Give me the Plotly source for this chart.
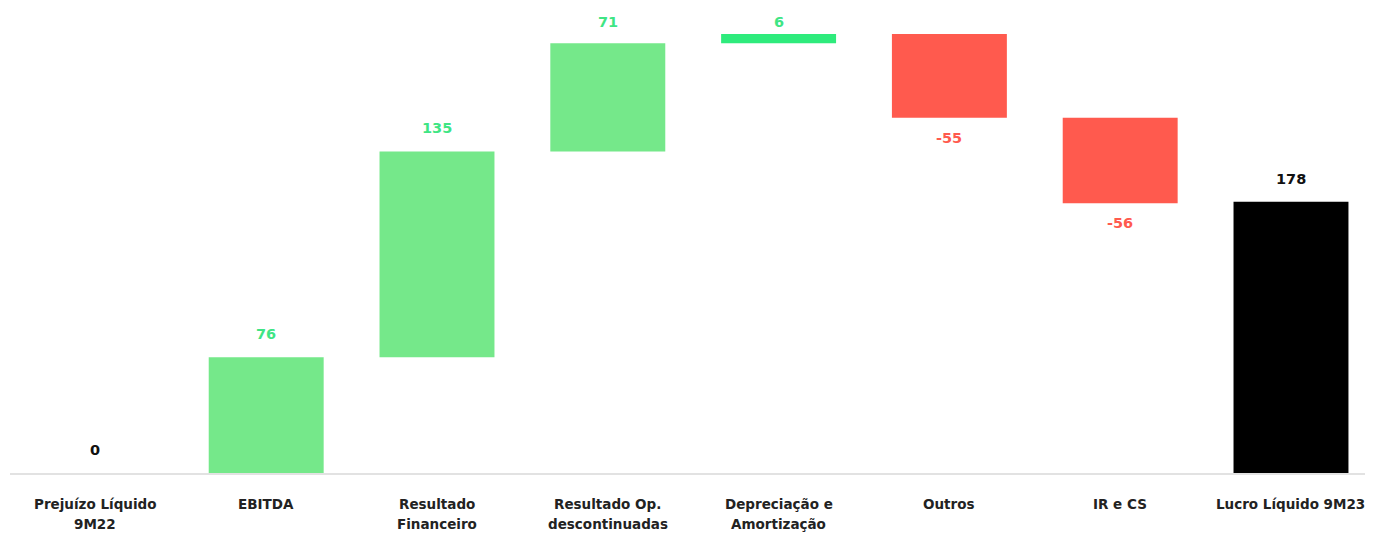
import plotly.graph_objects as go

categories = ["Prejuízo Líquido<br>9M22", "EBITDA", "Resultado<br>Financeiro",
              "Resultado Op.<br>descontinuadas", "Depreciação e<br>Amortização",
              "Outros", "IR e CS", "Lucro Líquido 9M23"]
values = [0, 76, 135, 71, 6, -55, -56, 178]
measures = ["absolute", "relative", "relative", "relative", "relative", "relative", "relative", "absolute"]
labels = ["0", "76", "135", "71", "6", "-55", "-56", "178"]
bar_colors = ["#000000", "#75E88A", "#75E88A", "#75E88A", "#2EEB7C", "#FF5A4E", "#FF5A4E", "#000000"]
label_colors = ["#111111", "#3FE584", "#3FE584", "#3FE584", "#3FE584", "#FF5A4E", "#FF5A4E", "#111111"]

bases, heights, tops, bottoms = [], [], [], []
running = 0
for v, m in zip(values, measures):
    if m == "absolute":
        bases.append(0)
        running = v
    else:
        bases.append(running)
        running += v
    heights.append(v)
    tops.append(max(bases[-1], bases[-1] + v))
    bottoms.append(min(bases[-1], bases[-1] + v))

font_family = "DejaVu Sans, sans-serif"
Y_MAX = 297.2
PLOT_H = 533 - 12 - 68
PPU = PLOT_H / Y_MAX

fig = go.Figure()
fig.add_trace(go.Bar(
    x=list(range(len(categories))), y=heights, base=bases,
    marker=dict(color=bar_colors, line=dict(width=0)),
    hoverinfo="skip", showlegend=False,
))

for i, (v, lab, col, t, b) in enumerate(zip(values, labels, label_colors, tops, bottoms)):
    if v >= 0:
        y = min(t + 23 / PPU, Y_MAX - 1.5 / PPU)
    else:
        y = b - 20 / PPU
    fig.add_annotation(x=i, y=y, text=f"<b>{lab}</b>", showarrow=False,
                       yanchor="middle",
                       font=dict(family=font_family, size=14.5, color=col))

# category labels (two lines with wider spacing)
for i, c in enumerate(categories):
    for j, line in enumerate(c.split("<br>")):
        fig.add_annotation(x=i, xref="x", y=0, yref="paper", text=f"<b>{line}</b>",
                           showarrow=False, yanchor="middle", yshift=-31 - 20 * j,
                           font=dict(family=font_family, size=13.5, color="#222222"))

fig.update_layout(
    width=1373, height=533,
    margin=dict(l=2, r=0, t=12, b=68),
    paper_bgcolor="white", plot_bgcolor="white",
    bargap=0.327,
    xaxis=dict(
        range=[-0.5, 7.527], showticklabels=False,
        showline=True, linecolor="#E2E2E2", linewidth=2,
        showgrid=False, ticks="", zeroline=False,
    ),
    yaxis=dict(range=[0, Y_MAX], visible=False, showgrid=False, zeroline=False),
)

fig.write_html("out.html")
